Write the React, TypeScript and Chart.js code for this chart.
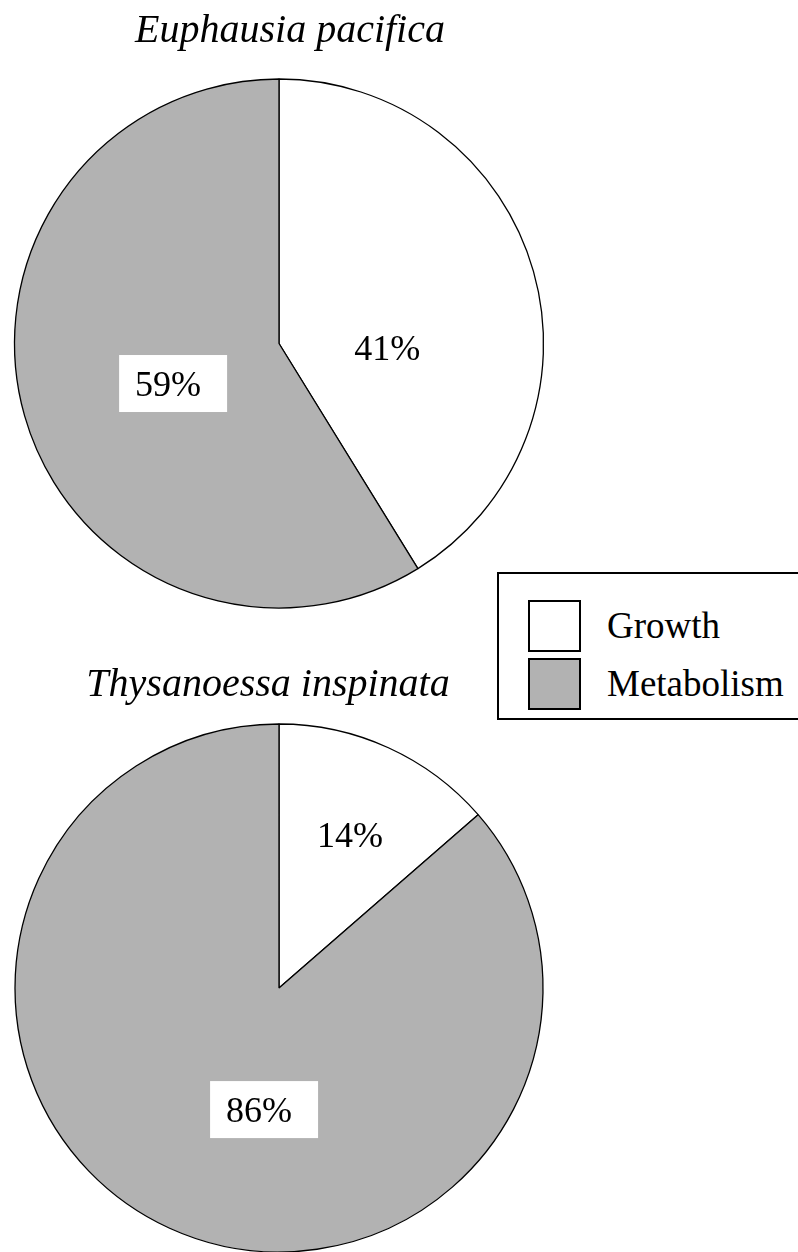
import React, { useEffect, useRef } from "react";
import { Chart, registerables } from "chart.js";

Chart.register(...registerables);

// ---- data ----
const categories = ["Growth", "Metabolism"];
const speciesNames = ["Euphausia pacifica", "Thysanoessa inspinata"];
const euphausiaValues = [41.2, 58.8];
const thysanoessaValues = [13.6, 86.4];
const sliceColors = ["#ffffff", "#b2b2b2"];

// ---- label placement (polar, relative to each pie) ----
const labelPlacementTop = [
  { angle: 2.4, frac: 0.41, boxed: false },
  { angle: 159.3, frac: 0.428, boxed: true },
];
const labelPlacementBottom = [
  { angle: -65.1, frac: 0.639, boxed: false },
  { angle: 97, frac: 0.464, boxed: true },
];

const SERIF = "'Liberation Serif', 'Times New Roman', Times, serif";

const pieLabels = {
  id: "pieLabels",
  afterDatasetsDraw(chart: any, _args: any, opts: any) {
    const ctx = chart.ctx;
    const meta = chart.getDatasetMeta(0);
    const data = chart.data.datasets[0].data as number[];
    const total = data.reduce((a, b) => a + b, 0);
    ctx.save();
    ctx.font = `36px ${SERIF}`;
    meta.data.forEach((arc: any, i: number) => {
      const p = opts.placement[i];
      const { x, y, outerRadius } = arc.getProps(["x", "y", "outerRadius"], true);
      const a = (p.angle * Math.PI) / 180;
      const cx = x + Math.cos(a) * outerRadius * p.frac;
      const cy = y + Math.sin(a) * outerRadius * p.frac;
      const text = Math.round((data[i] / total) * 100) + "%";
      const w = ctx.measureText(text).width;
      ctx.textBaseline = "middle";
      if (p.boxed) {
        const bw = w + 42;
        const bh = 57;
        ctx.fillStyle = "#ffffff";
        ctx.fillRect(cx - bw / 2, cy - bh / 2, bw, bh);
        ctx.fillStyle = "#000000";
        ctx.textAlign = "left";
        ctx.fillText(text, cx - bw / 2 + 16, cy + 3);
      } else {
        ctx.fillStyle = "#000000";
        ctx.textAlign = "center";
        ctx.fillText(text, cx, cy + 3);
      }
    });
    ctx.restore();
  },
};

function PieCanvas(props: {
  values: number[];
  placement: any[];
  top: number;
  height: number;
  radius: number;
}) {
  const ref = useRef<HTMLCanvasElement | null>(null);
  useEffect(() => {
    if (!ref.current) return;
    const chart = new Chart(ref.current, {
      type: "pie",
      data: {
        labels: categories,
        datasets: [
          {
            data: props.values,
            backgroundColor: sliceColors,
            borderColor: "#000000",
            borderWidth: 1.3,
            radius: props.radius,
          } as any,
        ],
      },
      options: {
        responsive: false,
        maintainAspectRatio: false,
        animation: false,
        events: [],
        layout: { padding: 0 },
        plugins: {
          legend: { display: false },
          tooltip: { enabled: false },
          title: { display: false },
          pieLabels: { placement: props.placement },
        } as any,
      },
      plugins: [pieLabels as any],
    });
    return () => chart.destroy();
  }, []);
  return (
    <canvas
      ref={ref}
      width={558}
      height={props.height}
      style={{
        position: "absolute",
        left: 0,
        top: props.top,
        width: 558,
        height: props.height,
      }}
    />
  );
}

export default function App() {
  const titleStyle: React.CSSProperties = {
    position: "absolute",
    fontFamily: SERIF,
    fontStyle: "italic",
    fontSize: 40,
    lineHeight: "40px",
    whiteSpace: "nowrap",
    transform: "translateX(-50%)",
    color: "#000",
  };
  return (
    <div
      style={{
        position: "absolute",
        left: 0,
        top: 0,
        width: 798,
        height: 1252,
        overflow: "hidden",
        background: "#ffffff",
      }}
    >
      <PieCanvas values={euphausiaValues} placement={labelPlacementTop} top={0} height={687} radius={264.5} />
      <PieCanvas values={thysanoessaValues} placement={labelPlacementBottom} top={658} height={660} radius={264} />
      <div style={{ ...titleStyle, left: 290, top: 9 }}>{speciesNames[0]}</div>
      <div style={{ ...titleStyle, left: 268, top: 663 }}>{speciesNames[1]}</div>
      <div
        style={{
          position: "absolute",
          left: 497,
          top: 572,
          width: 320,
          height: 148,
          border: "2px solid #000",
          boxSizing: "border-box",
          background: "#fff",
        }}
      >
        {categories.map((c, i) => (
          <div
            key={c}
            style={{
              position: "absolute",
              left: 29,
              top: 26 + i * 58,
              height: 52,
              display: "flex",
              alignItems: "center",
            }}
          >
            <div
              style={{
                width: 53,
                height: 52,
                boxSizing: "border-box",
                border: "2px solid #000",
                background: sliceColors[i],
              }}
            />
            <span
              style={{
                marginLeft: 26,
                fontFamily: SERIF,
                fontSize: 37,
                lineHeight: "52px",
                whiteSpace: "nowrap",
                color: "#000",
              }}
            >
              {c}
            </span>
          </div>
        ))}
      </div>
    </div>
  );
}
